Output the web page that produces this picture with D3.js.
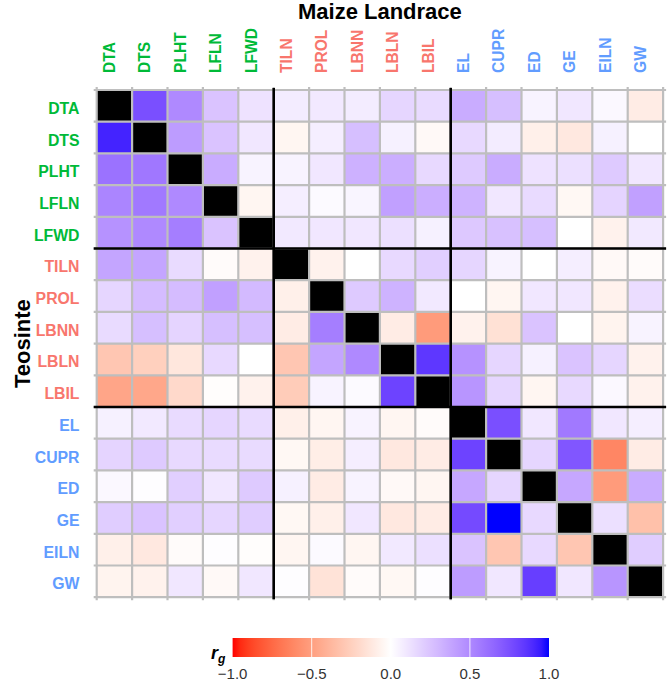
<!DOCTYPE html>
<html>
<head>
<meta charset="utf-8">
<script src="https://cdn.jsdelivr.net/npm/d3@7"></script>
<style>
  html, body { margin: 0; padding: 0; background: #fff; }
  svg { display: block; font-family: "Liberation Sans", Arial, Helvetica, sans-serif; }
</style>
</head>
<body>
<svg id="chart" width="667" height="681"></svg>
<script>
// ---------------- data ----------------
const traits = ["DTA","DTS","PLHT","LFLN","LFWD","TILN","PROL","LBNN","LBLN","LBIL","EL","CUPR","ED","GE","EILN","GW"];
const traitGroup = ["flow","flow","flow","flow","flow","branch","branch","branch","branch","branch","ear","ear","ear","ear","ear","ear"];
const groupColors = {flow: "#00BA38", branch: "#F8766D", ear: "#619CFF"};
const xTitle = "Maize Landrace";
const yTitle = "Teosinte";
const legendTicks = [-1.0, -0.5, 0.0, 0.5, 1.0];
const groupBreaks = [5, 10];

// rows = teosinte trait, columns = maize landrace trait
const rgDTA  = [ 1.00, 0.75, 0.50, 0.25, 0.12, 0.08, 0.09, 0.08, 0.17, 0.15, 0.35, 0.27, 0.05, 0.10, 0.03,-0.10];
const rgDTS  = [ 0.92, 1.00, 0.42, 0.25, 0.10,-0.05, 0.07, 0.27, 0.06,-0.03, 0.16, 0.08,-0.08,-0.12, 0.06, 0.00];
const rgPLHT = [ 0.60, 0.58, 1.00, 0.35, 0.05, 0.05, 0.10, 0.33, 0.34, 0.16, 0.22, 0.35, 0.12, 0.13, 0.22, 0.10];
const rgLFLN = [ 0.52, 0.57, 0.50, 1.00,-0.05, 0.07, 0.02, 0.04, 0.40, 0.34, 0.32, 0.10, 0.15,-0.04, 0.18, 0.40];
const rgLFWD = [ 0.46, 0.50, 0.55, 0.25, 1.00, 0.09, 0.10, 0.10, 0.13, 0.06, 0.23, 0.26, 0.27, 0.00,-0.07, 0.09];
const rgTILN = [ 0.38, 0.38, 0.15,-0.02,-0.07, 1.00,-0.07, 0.00, 0.16, 0.20, 0.17, 0.05, 0.00, 0.07,-0.03,-0.02];
const rgPROL = [ 0.17, 0.28, 0.28, 0.40, 0.29,-0.08, 1.00, 0.22, 0.32, 0.09, 0.00,-0.05, 0.10, 0.10,-0.07, 0.14];
const rgLBNN = [ 0.15, 0.27, 0.18, 0.27, 0.27,-0.10, 0.55, 1.00,-0.10,-0.52,-0.07,-0.16, 0.25, 0.00,-0.06, 0.05];
const rgLBLN = [-0.30,-0.25,-0.13, 0.16, 0.00,-0.30, 0.38, 0.50, 1.00, 0.85, 0.46, 0.17, 0.06, 0.25, 0.17,-0.07];
const rgLBIL = [-0.47,-0.46,-0.20,-0.01,-0.07,-0.27, 0.05, 0.02, 0.80, 1.00, 0.45, 0.17,-0.05, 0.16, 0.03,-0.07];
const rgEL   = [ 0.06, 0.09, 0.15, 0.17, 0.15,-0.08,-0.05, 0.05,-0.05,-0.02, 1.00, 0.75, 0.10, 0.57, 0.10, 0.07];
const rgCUPR = [ 0.18, 0.22, 0.16, 0.15, 0.15,-0.04,-0.09, 0.07,-0.12,-0.10, 0.80, 1.00, 0.17, 0.72,-0.62,-0.10];
const rgED   = [ 0.03, 0.01, 0.20, 0.10, 0.22, 0.06,-0.10, 0.05,-0.03,-0.05, 0.37, 0.17, 1.00, 0.37,-0.52, 0.35];
const rgGE   = [ 0.21, 0.25, 0.20, 0.17, 0.21,-0.04,-0.08, 0.10,-0.12,-0.10, 0.77, 1.00, 0.16, 1.00, 0.13,-0.33];
const rgEILN = [-0.08,-0.12,-0.02, 0.01,-0.01,-0.05, 0.02,-0.05, 0.09, 0.13, 0.25,-0.30, 0.16,-0.30, 1.00, 0.21];
const rgGW   = [-0.06,-0.07, 0.10,-0.03, 0.10, 0.01,-0.15,-0.02,-0.04, 0.01, 0.42, 0.10, 0.82, 0.10, 0.45, 1.00];
const rgRows = [rgDTA, rgDTS, rgPLHT, rgLFLN, rgLFWD, rgTILN, rgPROL, rgLBNN, rgLBLN, rgLBIL, rgEL, rgCUPR, rgED, rgGE, rgEILN, rgGW];

// ---------------- layout ----------------
const svg = d3.select("#chart");
const gx0 = 96.7, gx1 = 663.1, gy0 = 90, gy1 = 597.2;

const x = d3.scaleBand().domain(traits).range([gx0, gx1]).padding(0);
const y = d3.scaleBand().domain(traits).range([gy0, gy1]).padding(0);
const color = d3.scaleLinear().domain([-1, 0, 1]).range(["#FF0000", "#FFFFFF", "#0000FF"]).interpolate(d3.interpolateLab).clamp(true);

const cells = [];
rgRows.forEach((row, i) => row.forEach((v, j) => cells.push({r: traits[i], c: traits[j], v, diag: i === j})));

// tiles
svg.append("g").selectAll("rect").data(cells).join("rect")
  .attr("x", d => x(d.c)).attr("y", d => y(d.r))
  .attr("width", x.bandwidth()).attr("height", y.bandwidth())
  .attr("fill", d => d.diag ? "#000000" : color(d.v));

// grey grid (tile borders) with slight overhang
const gridG = svg.append("g").attr("stroke", "#BEBEBE").attr("stroke-width", 2.2);
const xEdges = traits.map(t => x(t)).concat([gx1]);
const yEdges = traits.map(t => y(t)).concat([gy1]);
gridG.selectAll("line.v").data(xEdges).join("line").attr("class", "v")
  .attr("x1", d => d).attr("x2", d => d).attr("y1", gy0 - 3).attr("y2", gy1 + 3);
gridG.selectAll("line.h").data(yEdges).join("line").attr("class", "h")
  .attr("y1", d => d).attr("y2", d => d).attr("x1", gx0 - 3).attr("x2", gx1 + 3);

// black group separators
const sepG = svg.append("g").attr("stroke", "#000").attr("stroke-width", 2.6);
sepG.selectAll("line.v").data(groupBreaks).join("line").attr("class", "v")
  .attr("x1", d => x(traits[d])).attr("x2", d => x(traits[d])).attr("y1", gy0 - 2).attr("y2", gy1 + 2);
sepG.selectAll("line.h").data(groupBreaks).join("line").attr("class", "h")
  .attr("y1", d => y(traits[d])).attr("y2", d => y(traits[d])).attr("x1", gx0 - 3).attr("x2", gx1 + 3);

// column labels (top, rotated)
svg.append("g").selectAll("text").data(traits).join("text")
  .attr("transform", d => `translate(${x(d) + x.bandwidth() / 2 + 0.6},73) rotate(-90)`)
  .attr("text-anchor", "start")
  .attr("font-size", "15.6px").attr("font-weight", "bold")
  .attr("fill", (d, i) => groupColors[traitGroup[i]])
  .text(d => d);

// row labels (left)
svg.append("g").selectAll("text").data(traits).join("text")
  .attr("x", 79.5).attr("y", d => y(d) + y.bandwidth() / 2 + 8)
  .attr("text-anchor", "end")
  .attr("font-size", "15.8px").attr("font-weight", "bold")
  .attr("fill", (d, i) => groupColors[traitGroup[i]])
  .text(d => d);

// axis titles
svg.append("text").attr("x", (gx0 + gx1) / 2).attr("y", 18.5)
  .attr("text-anchor", "middle").attr("font-size", "22px").attr("font-weight", "bold")
  .attr("fill", "#000").text(xTitle);
svg.append("text").attr("transform", `translate(30,${(gy0 + gy1) / 2}) rotate(-90)`)
  .attr("text-anchor", "middle").attr("font-size", "22px").attr("font-weight", "bold")
  .attr("fill", "#000").text(yTitle);

// ---------------- colour bar ----------------
const lx = d3.scaleLinear().domain([-1, 1]).range([232.6, 549]);
const barY = 638, barH = 19;
const defs = svg.append("defs");
const grad = defs.append("linearGradient").attr("id", "rgGrad").attr("x1", "0%").attr("x2", "100%");
const stopVals = d3.range(0, 41).map(k => -1 + k * 0.05);
grad.selectAll("stop").data(stopVals).join("stop")
  .attr("offset", d => ((d + 1) / 2 * 100) + "%")
  .attr("stop-color", d => color(d));
svg.append("rect").attr("x", lx(-1)).attr("y", barY).attr("width", lx(1) - lx(-1)).attr("height", barH)
  .attr("fill", "url(#rgGrad)");
svg.append("g").selectAll("line").data(legendTicks.filter(t => Math.abs(t) < 1)).join("line")
  .attr("x1", d => lx(d)).attr("x2", d => lx(d)).attr("y1", barY).attr("y2", barY + barH)
  .attr("stroke", "#fff").attr("stroke-width", 1).attr("stroke-opacity", 0.85);
svg.append("g").selectAll("text").data(legendTicks).join("text")
  .attr("x", d => lx(d)).attr("y", 679)
  .attr("text-anchor", "middle").attr("font-size", "15px").attr("fill", "#333")
  .text(d => d3.format(".1f")(d).replace("-", "\u2212"));
const lt = svg.append("text").attr("x", 211).attr("y", 659)
  .attr("font-size", "18px").attr("font-weight", "bold").attr("font-style", "italic").attr("fill", "#000");
lt.append("tspan").text("r");
lt.append("tspan").attr("dy", 4).attr("font-size", "12px").text("g");
</script>
</body>
</html>
